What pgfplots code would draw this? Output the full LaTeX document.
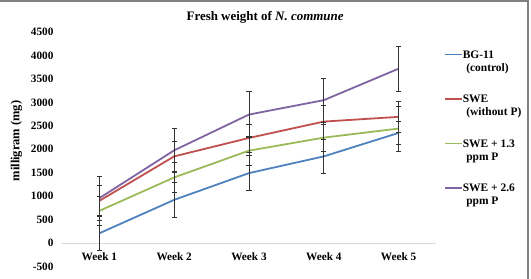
\documentclass[border=0pt]{standalone}
\usepackage{fontspec}
\setmainfont{Liberation Serif}
\usepackage{pgfplots}
\pgfplotsset{compat=1.18}

\definecolor{sBlue}{RGB}{79,129,189}
\definecolor{sRed}{RGB}{192,80,77}
\definecolor{sGreen}{RGB}{155,187,89}
\definecolor{sPurple}{RGB}{128,100,162}
\definecolor{frameGray}{RGB}{128,128,128}
\definecolor{zeroGray}{RGB}{217,217,217}

\newcommand{\twoline}[2]{\begin{tabular}[t]{@{}l@{}}#1\\\hspace*{3.5bp}#2\end{tabular}}

\begin{document}
\begin{tikzpicture}
\useasboundingbox (0bp,0bp) rectangle (531bp,279bp);
% chart frame (top and right edges)
\draw[frameGray, line width=1.5bp] (0bp,278.2bp) -- (528.2bp,278.2bp) -- (528.2bp,0bp);
\begin{axis}[
  at={(62bp,12.6bp)}, anchor=south west,
  scale only axis, width=374bp, height=234.4bp,
  xmin=0.5, xmax=5.5, ymin=-500, ymax=4500,
  xtick={1,2,3,4,5},
  xticklabels={Week 1,Week 2,Week 3,Week 4,Week 5},
  ytick={-500,0,...,4500},
  axis line style={draw=none},
  major tick length=0pt,
  /pgf/number format/assume math mode=true,
  /pgf/number format/1000 sep={},
  tick label style={font=\fontsize{11.3}{13}\selectfont\bfseries},
  xticklabel style={yshift=17.7bp},
  yticklabel style={xshift=-5bp},
  extra y ticks={0},
  extra y tick labels={},
  extra y tick style={grid=major, major grid style={draw=zeroGray, line width=0.9bp}},
  every axis title/.style={at={(axis description cs:0.543,1)}, anchor=base, yshift=11.3bp,
    font=\fontsize{13}{15}\selectfont\bfseries},
  title={Fresh weight of \textit{N. commune}},
  every axis y label/.style={at={(axis description cs:-0.122,0.535)}, rotate=90, anchor=center,
    font=\fontsize{12.5}{14}\selectfont\bfseries},
  ylabel={milligram (mg)},
  legend cell align=left,
  legend style={at={(1,1)}, anchor=north west, xshift=8bp, yshift=-17.2bp,
    draw=none, fill=none, inner sep=0pt, outer sep=0pt,
    row sep=34bp, column sep=0pt,
    font=\fontsize{11.5}{13}\selectfont\bfseries,
    nodes={inner sep=0pt, outer sep=0pt},
    cells={anchor=base west}},
  legend image code/.code={\draw[#1, line width=1.8bp] (0bp,3.8bp) -- (17bp,3.8bp);},
  every axis plot/.append style={line width=1.8bp, mark=none},
  error bars/y dir=both,
  error bars/y explicit,
  error bars/error bar style={black!80, line width=0.7bp, solid},
  error bars/error mark options={black!80, line width=0.7bp, mark size=2.5bp, rotate=90},
]
% BG-11 (control)
\addplot[sBlue] coordinates {
  (1,207) +- (0,372)
  (2,920) +- (0,370)
  (3,1490) +- (0,377)
  (4,1847) +- (0,370)
  (5,2347) +- (0,240)
};
\addlegendentry{\twoline{BG-11}{(control)}}
% SWE (without P)
\addplot[sRed] coordinates {
  (1,899) +- (0,321)
  (2,1847) +- (0,325)
  (3,2240) +- (0,300)
  (4,2589) +- (0,340)
  (5,2690) +- (0,321)
};
\addlegendentry{\twoline{SWE}{(without P)}}
% SWE + 1.3 ppm P
\addplot[sGreen] coordinates {
  (1,685) +- (0,306)
  (2,1398) +- (0,325)
  (3,1969) +- (0,315)
  (4,2247) +- (0,293)
  (5,2440) +- (0,480)
};
\addlegendentry{\twoline{SWE + 1.3}{ppm P}}
% SWE + 2.6 ppm P
\addplot[sPurple] coordinates {
  (1,956) +- (0,464)
  (2,1976) +- (0,474)
  (3,2739) +- (0,486)
  (4,3046) +- (0,470)
  (5,3717) +- (0,483)
};
\addlegendentry{\twoline{SWE + 2.6}{ppm P}}
\end{axis}
\end{tikzpicture}
\end{document}
